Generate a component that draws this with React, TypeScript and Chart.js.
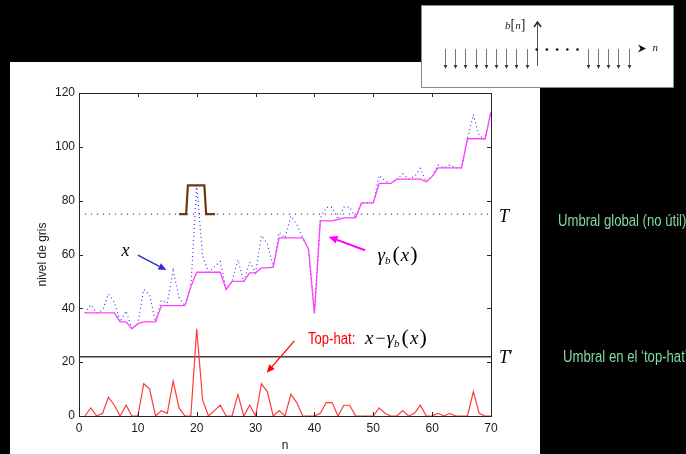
import React, { useEffect, useRef } from 'react';
import { Chart, registerables } from 'chart.js';

Chart.register(...registerables);

// ---------------- data ----------------
const nValues = [
  1, 2, 3, 4, 5, 6, 7, 8, 9, 10, 11, 12, 13, 14, 15, 16, 17, 18, 19, 20,
  21, 22, 23, 24, 25, 26, 27, 28, 29, 30, 31, 32, 33, 34, 35, 36, 37, 38, 39, 40,
  41, 42, 43, 44, 45, 46, 47, 48, 49, 50, 51, 52, 53, 54, 55, 56, 57, 58, 59, 60,
  61, 62, 63, 64, 65, 66, 67, 68, 69, 70,
];
// original signal x[n]
const xSignal = [
  38.3, 41.3, 38.3, 39.3, 45.3, 42.3, 35, 39, 32.4, 34.3,
  47, 45, 35, 43, 42, 54, 44, 41, 48, 85.8,
  59.4, 53.4, 55.4, 57.4, 47, 50, 58, 50, 57.2, 53.2,
  67, 64, 55.3, 68.2, 66.2, 74.2, 71.2, 66.2, 62, 38.1,
  73.5, 77.5, 77.5, 73, 77.6, 77.6, 73.6, 79.2, 79.2, 79.2,
  89.4, 87.4, 86.4, 88, 90, 88, 89, 92, 87, 89,
  93.2, 92.2, 93.2, 92.2, 92.2, 103, 112, 104, 103, 113,
];
// opening gamma_b(x)
const gammaB = [
  38.3, 38.3, 38.3, 38.3, 38.3, 38.3, 35, 35, 32.4, 34.3,
  35, 35, 35, 41, 41, 41, 41, 41, 48, 53.4,
  53.4, 53.4, 53.4, 53.4, 47, 50, 50, 50, 53.2, 53.2,
  55, 55, 55.3, 66.2, 66.2, 66.2, 66.2, 66.2, 62, 38.1,
  72.5, 72.5, 72.5, 73, 73.6, 73.6, 73.6, 79.2, 79.2, 79.2,
  86.4, 86.4, 86.4, 88, 88, 88, 88, 88, 87, 89,
  92.2, 92.2, 92.2, 92.2, 92.2, 103, 103, 103, 103, 113,
];
// top-hat x - gamma_b(x)
const topHat = [
  0, 3, 0, 1, 7, 4, 0, 4, 0, 0,
  12, 10, 0, 2, 1, 13, 3, 0, 0, 32.4,
  6, 0, 2, 4, 0, 0, 8, 0, 4, 0,
  12, 9, 0, 2, 0, 8, 5, 0, 0, 0,
  1, 5, 5, 0, 4, 4, 0, 0, 0, 0,
  3, 1, 0, 0, 2, 0, 1, 4, 0, 0,
  1, 0, 1, 0, 0, 0, 9, 1, 0, 0,
];
const thresholdT = 75;
const thresholdTPrime = 22;
const thresholdSpan = [1, 70];
const thresholdPrimeSpan = [0, 70];
// structuring element pulse drawn over the peak
const pulseN = [17, 18.2, 18.5, 21.3, 21.6, 23.1];
const pulseY = [75, 75, 85.7, 85.7, 75, 75];
const xTicks = [0, 10, 20, 30, 40, 50, 60, 70];
const yTicks = [0, 20, 40, 60, 80, 100, 120];
// inset b[n] stems
const insetDownLeft = [-9, -8, -7, -6, -5, -4, -3, -2, -1];
const insetUp = [0];
const insetDots = [0, 1, 2, 3, 4];
const insetDownRight = [5, 6, 7, 8, 9];

const SANS = "'Liberation Sans', Arial, Helvetica, sans-serif";
const SERIF = "'Liberation Serif', 'Times New Roman', serif";

type Seg = { t: string; f: string; dy?: number; gap?: number };

function drawSegs(ctx: CanvasRenderingContext2D, segs: Seg[], x: number, y: number, color: string) {
  ctx.fillStyle = color;
  ctx.textBaseline = 'alphabetic';
  ctx.textAlign = 'left';
  let cx = x;
  for (const s of segs) {
    ctx.font = s.f;
    ctx.fillText(s.t, cx, y + (s.dy || 0));
    cx += ctx.measureText(s.t).width + (s.gap || 0);
  }
}

function narrowText(ctx: CanvasRenderingContext2D, text: string, x: number, y: number, size: number, color: string, sx = 0.82) {
  ctx.save();
  ctx.translate(x, y);
  ctx.scale(sx, 1);
  ctx.font = `${size}px ${SANS}`;
  ctx.fillStyle = color;
  ctx.textAlign = 'left';
  ctx.textBaseline = 'alphabetic';
  ctx.fillText(text, 0, 0);
  ctx.restore();
}

function arrow(ctx: CanvasRenderingContext2D, x1: number, y1: number, x2: number, y2: number, color: string, width: number, headLen: number, headW: number) {
  const ang = Math.atan2(y2 - y1, x2 - x1);
  const bx = x2 - headLen * Math.cos(ang);
  const by = y2 - headLen * Math.sin(ang);
  ctx.strokeStyle = color;
  ctx.lineWidth = width;
  ctx.setLineDash([]);
  ctx.beginPath();
  ctx.moveTo(x1, y1);
  ctx.lineTo(bx, by);
  ctx.stroke();
  ctx.beginPath();
  ctx.moveTo(x2, y2);
  ctx.lineTo(bx + headW * Math.sin(ang), by - headW * Math.cos(ang));
  ctx.lineTo(bx - headW * Math.sin(ang), by + headW * Math.cos(ang));
  ctx.closePath();
  ctx.fillStyle = color;
  ctx.fill();
}

const backgroundPlugin = {
  id: 'bgPanel',
  beforeDraw(chart: any) {
    const ctx = chart.ctx as CanvasRenderingContext2D;
    ctx.save();
    ctx.fillStyle = '#000';
    ctx.fillRect(0, 0, chart.width, chart.height);
    ctx.fillStyle = '#fff';
    ctx.fillRect(10, 62, 530, chart.height - 62);
    ctx.restore();
  },
};

const decorPlugin = {
  id: 'decor',
  afterDraw(chart: any) {
    const ctx = chart.ctx as CanvasRenderingContext2D;
    const xs = chart.scales.x;
    const ys = chart.scales.y;
    const { left, right, top, bottom } = chart.chartArea;
    const px = (v: number) => xs.getPixelForValue(v);
    const py = (v: number) => ys.getPixelForValue(v);
    ctx.save();

    // axes box with inward ticks
    ctx.strokeStyle = '#262626';
    ctx.lineWidth = 1;
    ctx.setLineDash([]);
    ctx.strokeRect(Math.round(left) + 0.5, Math.round(top) + 0.5, Math.round(right - left), Math.round(bottom - top));
    ctx.beginPath();
    for (const t of xTicks) {
      const x = Math.round(px(t)) + 0.5;
      ctx.moveTo(x, bottom);
      ctx.lineTo(x, bottom - 4);
      ctx.moveTo(x, top);
      ctx.lineTo(x, top + 4);
    }
    for (const t of yTicks) {
      const y = Math.round(py(t)) + 0.5;
      ctx.moveTo(left, y);
      ctx.lineTo(left + 4, y);
      ctx.moveTo(right, y);
      ctx.lineTo(right - 4, y);
    }
    ctx.stroke();

    // x annotation
    drawSegs(ctx, [{ t: 'x', f: `italic 18px ${SERIF}` }], px(7.2), py(59.3), '#000');
    arrow(ctx, px(10.0), py(59.8), px(14.85), py(54.2), '#3030c8', 1.5, 8, 3.5);

    // gamma_b(x) annotation
    const gX = px(50.7);
    const gY = py(57.6);
    drawSegs(
      ctx,
      [
        { t: '\u03B3', f: `italic 19px ${SERIF}` },
        { t: 'b', f: `italic 11px ${SERIF}`, dy: 3, gap: 2 },
        { t: '(', f: `22px ${SERIF}`, gap: 1 },
        { t: 'x', f: `italic 19px ${SERIF}`, gap: 1 },
        { t: ')', f: `22px ${SERIF}` },
      ],
      gX,
      gY,
      '#000'
    );
    arrow(ctx, px(48.6), py(61.6), px(42.4), py(66.6), '#ff00ff', 2, 9, 4);

    // Top-hat annotation
    narrowText(ctx, 'Top-hat:', px(38.9), py(26.6), 16, '#ff0000');
    drawSegs(
      ctx,
      [
        { t: 'x', f: `italic 19px ${SERIF}`, gap: 2 },
        { t: '\u2212', f: `18px ${SERIF}`, gap: 1 },
        { t: '\u03B3', f: `italic 19px ${SERIF}` },
        { t: 'b', f: `italic 11px ${SERIF}`, dy: 3, gap: 2 },
        { t: '(', f: `22px ${SERIF}`, gap: 1 },
        { t: 'x', f: `italic 19px ${SERIF}`, gap: 1 },
        { t: ')', f: `22px ${SERIF}` },
      ],
      px(48.6),
      py(26.6),
      '#000'
    );
    arrow(ctx, px(36.6), py(27.9), px(31.9), py(16.1), '#ff0000', 1.3, 8, 3.5);

    // T and T'
    drawSegs(ctx, [{ t: 'T', f: `italic 18px ${SERIF}` }], right + 8, py(thresholdT) + 7.5, '#000');
    drawSegs(ctx, [{ t: 'T', f: `italic 18px ${SERIF}` }, { t: '\u2032', f: `18px ${SERIF}` }], right + 8, py(thresholdTPrime) + 6, '#000');

    // green side notes
    narrowText(ctx, 'Umbral global (no \u00FAtil)', 558, 225.5, 16, '#80d8a2');
    narrowText(ctx, 'Umbral en el \u2018top-hat\u2019', 563, 362, 16, '#80d8a2');

    // inset: structuring element b[n]
    ctx.fillStyle = '#fff';
    ctx.fillRect(422, 5, 252, 83);
    ctx.strokeStyle = '#8a8a8a';
    ctx.lineWidth = 1;
    ctx.strokeRect(421.5, 5.5, 252, 82);
    const ix = (i: number) => 536.7 + i * 10.2;
    const stemDown = (i: number) => {
      const x = Math.round(ix(i)) + 0.5;
      ctx.strokeStyle = '#777';
      ctx.lineWidth = 1;
      ctx.beginPath();
      ctx.moveTo(x, 49);
      ctx.lineTo(x, 66);
      ctx.stroke();
      ctx.fillStyle = '#333';
      ctx.beginPath();
      ctx.moveTo(x, 69);
      ctx.lineTo(x - 1.8, 65);
      ctx.lineTo(x + 1.8, 65);
      ctx.closePath();
      ctx.fill();
    };
    insetDownLeft.forEach(stemDown);
    insetDownRight.forEach(stemDown);
    insetUp.forEach((i) => {
      const x = Math.round(ix(i)) + 0.5;
      ctx.strokeStyle = '#555';
      ctx.lineWidth = 1;
      ctx.beginPath();
      ctx.moveTo(x, 66);
      ctx.lineTo(x, 22);
      ctx.stroke();
      ctx.lineWidth = 1.4;
      ctx.strokeStyle = '#222';
      ctx.beginPath();
      ctx.moveTo(x - 3.5, 27);
      ctx.lineTo(x, 22);
      ctx.lineTo(x + 3.5, 27);
      ctx.stroke();
    });
    ctx.fillStyle = '#111';
    insetDots.forEach((i) => {
      ctx.beginPath();
      ctx.arc(ix(i), 49.5, 1.3, 0, Math.PI * 2);
      ctx.fill();
    });
    // axis arrowhead
    ctx.fillStyle = '#111';
    ctx.beginPath();
    ctx.moveTo(646, 48.5);
    ctx.lineTo(638, 44.5);
    ctx.lineTo(640.5, 48.5);
    ctx.lineTo(638, 52.5);
    ctx.closePath();
    ctx.fill();
    drawSegs(ctx, [{ t: 'n', f: `italic 11px ${SERIF}` }], 652.5, 51, '#222');
    drawSegs(
      ctx,
      [
        { t: 'b', f: `italic 11px ${SERIF}` },
        { t: '[', f: `14px ${SERIF}` },
        { t: 'n', f: `italic 11px ${SERIF}` },
        { t: ']', f: `14px ${SERIF}` },
      ],
      505,
      29,
      '#222'
    );

    ctx.restore();
  },
};

export default function App() {
  const canvasRef = useRef<HTMLCanvasElement | null>(null);

  useEffect(() => {
    const canvas = canvasRef.current;
    if (!canvas) return;
    const pts = (xs: number[], ys: number[]) => xs.map((x, i) => ({ x, y: ys[i] }));
    const chart = new Chart(canvas, {
      type: 'line',
      data: {
        datasets: [
          {
            label: 'b',
            data: pts(pulseN, pulseY),
            borderColor: '#6b3a12',
            borderWidth: 2.2,
            pointRadius: 0,
            tension: 0,
          },
          {
            label: 'gamma',
            data: pts(nValues, gammaB),
            borderColor: '#ff40ff',
            borderWidth: 1.3,
            pointRadius: 0,
            tension: 0,
          },
          {
            label: 'x',
            data: pts(nValues, xSignal),
            borderColor: '#3a3aff',
            borderWidth: 1.2,
            borderDash: [1, 3],
            pointRadius: 0,
            tension: 0,
          },
          {
            label: 'tophat',
            data: pts(nValues, topHat),
            borderColor: '#ff3a3a',
            borderWidth: 1.2,
            pointRadius: 0,
            tension: 0,
          },
          {
            label: 'T',
            data: pts(thresholdSpan, [thresholdT, thresholdT]),
            borderColor: '#555',
            borderWidth: 1.2,
            borderDash: [1.2, 4.8],
            pointRadius: 0,
          },
          {
            label: "T'",
            data: pts(thresholdPrimeSpan, [thresholdTPrime, thresholdTPrime]),
            borderColor: '#404040',
            borderWidth: 1.5,
            pointRadius: 0,
          },
        ],
      },
      options: {
        animation: false,
        responsive: false,
        events: [],
        layout: { padding: { left: 35, top: 93, right: 195, bottom: 0 } },
        plugins: {
          legend: { display: false },
          tooltip: { enabled: false },
        },
        scales: {
          x: {
            type: 'linear',
            min: 0,
            max: 70,
            afterFit: (s: any) => {
              s.height = 38;
            },
            grid: { display: false, drawTicks: false },
            border: { display: false },
            ticks: {
              stepSize: 10,
              padding: 5,
              maxRotation: 0,
              color: '#1a1a1a',
              font: { family: SANS, size: 12 },
            },
            title: {
              display: true,
              text: 'n',
              color: '#1a1a1a',
              font: { family: SANS, size: 12 },
              padding: { top: 0, bottom: 1 },
            },
          },
          y: {
            min: 0,
            max: 120,
            afterFit: (s: any) => {
              s.width = 44;
            },
            grid: { display: false, drawTicks: false },
            border: { display: false },
            ticks: {
              stepSize: 20,
              padding: 4,
              color: '#1a1a1a',
              font: { family: SANS, size: 12 },
            },
            title: {
              display: true,
              text: 'nivel de gris',
              color: '#1a1a1a',
              font: { family: SANS, size: 12 },
              padding: { top: 0, bottom: 0 },
            },
          },
        },
      },
      plugins: [backgroundPlugin, decorPlugin],
    } as any);
    return () => chart.destroy();
  }, []);

  return (
    <div style={{ position: 'fixed', left: 0, top: 0, width: 686, height: 454, background: '#000' }}>
      <canvas ref={canvasRef} width={686} height={454} style={{ display: 'block', width: 686, height: 454 }} />
    </div>
  );
}
